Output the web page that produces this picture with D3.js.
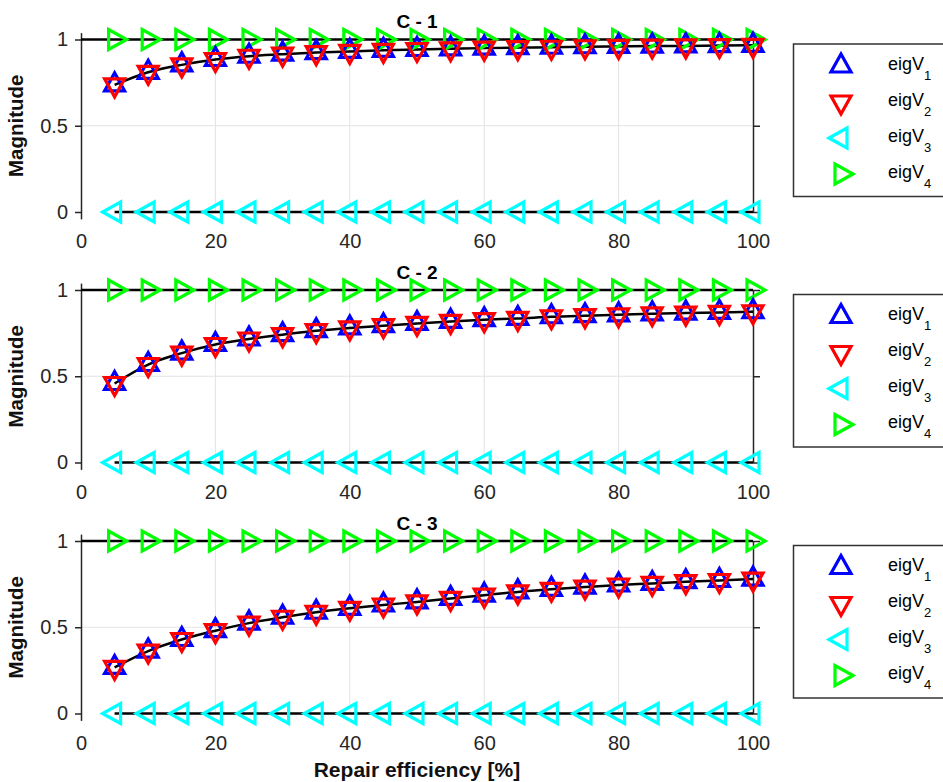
<!DOCTYPE html>
<html>
<head>
<meta charset="utf-8">
<script src="https://cdn.jsdelivr.net/npm/d3@7"></script>
<style>
  body { margin: 0; background: #fff; }
  svg { display: block; font-family: "Liberation Sans", Arial, sans-serif; }
</style>
</head>
<body>
<script>
// Chart dimensions.
const width = 943;
const height = 782;

// Data.
const repair = [5, 10, 15, 20, 25, 30, 35, 40, 45, 50, 55, 60, 65, 70, 75, 80, 85, 90, 95, 100];
const panelTitles = ["C - 1", "C - 2", "C - 3"];
const xTicks = [0, 20, 40, 60, 80, 100];
const yTicks = [0, 0.5, 1];
const seriesNames = ["1", "2", "3", "4"];

const c1EigV1 = [0.737, 0.81, 0.853, 0.884, 0.903, 0.915, 0.924, 0.931, 0.937, 0.942, 0.946, 0.95, 0.953, 0.955, 0.958, 0.96, 0.962, 0.963, 0.965, 0.966];
const c1EigV2 = [0.737, 0.81, 0.853, 0.884, 0.903, 0.915, 0.924, 0.931, 0.937, 0.942, 0.946, 0.95, 0.953, 0.955, 0.958, 0.96, 0.962, 0.963, 0.965, 0.966];
const c2EigV1 = [0.458, 0.568, 0.634, 0.684, 0.716, 0.741, 0.764, 0.78, 0.793, 0.806, 0.818, 0.828, 0.835, 0.845, 0.851, 0.856, 0.862, 0.866, 0.87, 0.874];
const c2EigV2 = [0.458, 0.568, 0.634, 0.684, 0.716, 0.741, 0.764, 0.78, 0.793, 0.806, 0.818, 0.828, 0.835, 0.845, 0.851, 0.856, 0.862, 0.866, 0.87, 0.874];
const c3EigV1 = [0.267, 0.362, 0.429, 0.48, 0.524, 0.558, 0.587, 0.61, 0.629, 0.647, 0.667, 0.686, 0.705, 0.72, 0.733, 0.745, 0.754, 0.764, 0.771, 0.779];
const c3EigV2 = [0.267, 0.362, 0.429, 0.48, 0.524, 0.558, 0.587, 0.61, 0.629, 0.647, 0.667, 0.686, 0.705, 0.72, 0.733, 0.745, 0.754, 0.764, 0.771, 0.779];
const eigV3 = [0, 0, 0, 0, 0, 0, 0, 0, 0, 0, 0, 0, 0, 0, 0, 0, 0, 0, 0, 0];
const eigV4 = [1, 1, 1, 1, 1, 1, 1, 1, 1, 1, 1, 1, 1, 1, 1, 1, 1, 1, 1, 1];
// the unit reference line starts at the origin
const unitLineX = [0, 100];
const unitLineY = [1, 1];

const panelData = [
  [c1EigV1, c1EigV2, eigV3, eigV4],
  [c2EigV1, c2EigV2, eigV3, eigV4],
  [c3EigV1, c3EigV2, eigV3, eigV4],
];

const colors = ["#0000ff", "#ff0000", "#00ffff", "#00ff00"];
const directions = ["up", "down", "left", "right"];
const axisColor = "#262626";

// Triangle marker centred on its centroid.
function triangle(dir, w = 20, h = 18) {
  let pts;
  if (dir === "up") pts = [[0, -2 * h / 3], [w / 2, h / 3], [-w / 2, h / 3]];
  else if (dir === "down") pts = [[0, 2 * h / 3], [w / 2, -h / 3], [-w / 2, -h / 3]];
  else if (dir === "right") pts = [[2 * h / 3, 0], [-h / 3, w / 2], [-h / 3, -w / 2]];
  else pts = [[-2 * h / 3, 0], [h / 3, w / 2], [h / 3, -w / 2]];
  return "M" + pts.map((p) => p.join(",")).join("L") + "Z";
}

const svg = d3
  .select("body")
  .append("svg")
  .attr("width", width)
  .attr("height", height)
  .attr("viewBox", [0, 0, width, height]);

const x = d3.scaleLinear([0, 100], [81, 753]);
const panelOffsets = [0, 250.5, 501.5];

panelData.forEach((series, i) => {
  const off = panelOffsets[i];
  const y = d3.scaleLinear([0, 1], [212 + off, 39.5 + off]);
  const g = svg.append("g");

  // Grid lines.
  g.append("g")
    .selectAll("line")
    .data(xTicks.filter((t) => t > 0 && t < 100))
    .join("line")
    .attr("x1", (d) => x(d))
    .attr("x2", (d) => x(d))
    .attr("y1", y(0))
    .attr("y2", y(1))
    .attr("stroke", "#e3e3e3")
    .attr("stroke-width", 1);
  g.append("line")
    .attr("x1", x(0))
    .attr("x2", x(100))
    .attr("y1", y(0.5))
    .attr("y2", y(0.5))
    .attr("stroke", "#e3e3e3")
    .attr("stroke-width", 1);

  // Left axis, slightly padded past 0 and 1.
  const yPad = y.copy().domain([-0.04, 1.04]).range([y(-0.04), y(1.04)]);
  g.append("g")
    .attr("transform", `translate(${x(0)},0)`)
    .call(d3.axisLeft(yPad).tickValues(yTicks).tickSize(6).tickSizeOuter(0).tickPadding(7).tickFormat(d3.format("")))
    .call((a) => a.select(".domain").attr("stroke", axisColor).attr("stroke-width", 1.5))
    .call((a) => a.selectAll(".tick line").attr("stroke", axisColor).attr("stroke-width", 1.5))
    .call((a) =>
      a.selectAll(".tick text")
        .attr("fill", axisColor)
        .attr("font-size", 20)
        .attr("font-family", "Liberation Sans, Arial, sans-serif"),
    );

  // Right axis, ticks only.
  g.append("g")
    .attr("transform", `translate(${x(100)},0)`)
    .call(d3.axisRight(y).tickValues(yTicks).tickSize(7).tickSizeOuter(0).tickFormat(""))
    .call((a) => a.select(".domain").attr("stroke", axisColor).attr("stroke-width", 1.5))
    .call((a) => a.selectAll(".tick line").attr("stroke", axisColor).attr("stroke-width", 1.5));

  // x tick labels.
  g.append("g")
    .attr("transform", `translate(0,${y(0)})`)
    .call(d3.axisBottom(x).tickValues(xTicks).tickSize(0).tickPadding(22))
    .call((a) => a.select(".domain").remove())
    .call((a) =>
      a.selectAll(".tick text")
        .attr("fill", axisColor)
        .attr("font-size", 20)
        .attr("font-family", "Liberation Sans, Arial, sans-serif"),
    );

  // Black curves under the markers.
  const line = d3
    .line()
    .x((d) => x(d[0]))
    .y((d) => y(d[1]))
    .curve(d3.curveMonotoneX);
  g.append("path")
    .attr("d", line(unitLineX.map((v, k) => [v, unitLineY[k]])))
    .attr("fill", "none")
    .attr("stroke", "#000")
    .attr("stroke-width", 2.5);
  [series[0], series[2]].forEach((vals) => {
    g.append("path")
      .attr("d", line(repair.map((r, k) => [r, vals[k]])))
      .attr("fill", "none")
      .attr("stroke", "#000")
      .attr("stroke-width", 2.5);
  });

  // Markers: eigV3, eigV4, then eigV1 and eigV2 on top.
  [2, 3, 0, 1].forEach((s) => {
    g.append("g")
      .selectAll("path")
      .data(series[s])
      .join("path")
      .attr("transform", (d, k) => `translate(${x(repair[k])},${y(d)})`)
      .attr("d", triangle(directions[s]))
      .attr("fill", "none")
      .attr("stroke", colors[s])
      .attr("stroke-width", 3.2);
  });

  // Title.
  g.append("text")
    .attr("x", (x(0) + x(100)) / 2)
    .attr("y", 28 + off)
    .attr("text-anchor", "middle")
    .attr("font-size", 19)
    .attr("font-weight", "bold")
    .text(panelTitles[i]);

  // y label.
  g.append("text")
    .attr("transform", `translate(23,${y(0.5)}) rotate(-90)`)
    .attr("text-anchor", "middle")
    .attr("font-size", 20.5)
    .attr("font-weight", "bold")
    .attr("fill", "#111")
    .text("Magnitude");

  // Legend.
  const leg = g.append("g").attr("transform", `translate(0,${off})`);
  leg.append("rect")
    .attr("x", 793.5)
    .attr("y", 44)
    .attr("width", 170)
    .attr("height", 152.5)
    .attr("fill", "#fff")
    .attr("stroke", "#333")
    .attr("stroke-width", 1.5);
  seriesNames.forEach((name, s) => {
    const ly = 66 + s * 36;
    leg.append("path")
      .attr("transform", `translate(841,${ly})`)
      .attr("d", triangle(directions[s]))
      .attr("fill", "none")
      .attr("stroke", colors[s])
      .attr("stroke-width", 3.2);
    const t = leg.append("text")
      .attr("x", 888)
      .attr("y", ly + 3.5)
      .attr("font-size", 18)
      .attr("fill", "#000");
    t.append("tspan").text("eigV");
    t.append("tspan").attr("font-size", 13).attr("dy", 10).text(name);
  });
});

// x label.
svg.append("text")
  .attr("x", (x(0) + x(100)) / 2)
  .attr("y", 777)
  .attr("text-anchor", "middle")
  .attr("font-size", 21)
  .attr("font-weight", "bold")
  .attr("fill", "#111")
  .text("Repair efficiency [%]");
</script>
</body>
</html>
